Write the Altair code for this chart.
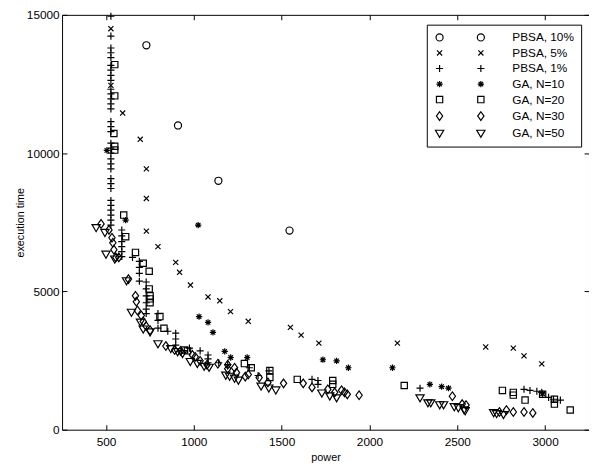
import altair as alt
import pandas as pd

FONT = "Liberation Sans"

series_names = ["PBSA, 10%", "PBSA, 5%", "PBSA, 1%", "GA, N=10", "GA, N=20", "GA, N=30", "GA, N=50"]

pbsa10_x = [730, 910, 1140, 1545]
pbsa10_y = [13900, 11000, 9000, 7200]

pbsa5_x = [528, 528, 595, 695, 730, 730, 730, 796, 897, 919, 981, 1081, 1148, 1209, 1310,
           1550, 1611, 1712, 2159, 2662, 2819, 2880, 2981]
pbsa5_y = [14500, 12450, 11450, 10500, 9430, 8360, 7180, 6620, 6050, 5690, 5230, 4800, 4660, 4270, 3920,
           3700, 3420, 3130, 3130, 2990, 2950, 2670, 2380]

pbsa1_x = [528] * 32 + [590] * 6 + [651] + [690] * 4 + [729] * 6 + [796] * 3 + [852] + [897] * 3 + \
          [975, 1036] + [1081] * 3 + [1142, 1193, 1316, 1366, 1428, 1673, 1707, 1707, 2288,
                                      2880, 2914, 2953, 2981, 3020, 3048, 3087]
pbsa1_y = [14950, 14230, 13800, 13630, 13450, 13170, 13000, 12810, 12630, 12310, 12140, 11960, 11780,
           11600, 11140, 10960, 10780, 10360, 10180, 10000, 9790, 9610, 9430, 9080, 8900, 8720, 8290,
           8110, 7940, 7760, 7580, 7400,
           7220, 7010, 6800, 6620, 6440, 6260,
           6230,
           6085, 5870, 5655, 5370,
           5340, 5090, 4840, 4590, 4360, 4200,
           4200, 3950, 3670,
           3560,
           3490, 3280, 3060,
           2950, 2850,
           2700, 2560, 2420,
           2420, 2350, 2240, 1960, 2130, 1820, 1780, 1640, 1500,
           1460, 1420, 1390, 1350, 1170, 1100, 1070]

ga10_x = [505, 612, 1025, 1030, 1081, 1109, 1176, 1210, 1304, 1735, 1813, 1880, 2131, 2344, 2411, 2450, 2986]
ga10_y = [10100, 7580, 7400, 4090, 3880, 3520, 2830, 2610, 2610, 2530, 2490, 2240, 2240, 1640, 1560, 1500, 1300]

ga20_x = [550, 550, 545, 550, 550, 601, 612, 668, 712, 746, 746, 751, 751, 751, 807, 830, 947, 964,
          1288, 1327, 1433, 1433, 1589, 1791, 1791, 2198, 2757, 2819, 2819, 2886, 2986, 3053, 3053, 3143]
ga20_y = [13200, 12070, 10710, 10250, 10110, 7760, 6980, 6410, 6020, 5730, 5090, 4840, 4730, 4590, 4090,
          3670, 2880, 2850, 2390, 2240, 2140, 1890, 1820, 1780, 1640, 1600, 1420, 1350, 1250, 1070,
          1280, 1100, 925, 710]

ga30_x = [472, 517, 534, 539, 545, 556, 573, 628, 668, 673, 679, 701, 712, 729, 751, 841, 891, 925, 992,
          1008, 1036, 1075, 1137, 1193, 1193, 1232, 1243, 1293, 1310, 1372, 1422, 1511, 1623, 1673, 1763,
          1802, 1841, 1858, 1874, 1941, 2472, 2528, 2550, 2740, 2780, 2819, 2880, 2930]
ga30_y = [7440, 7225, 6940, 6760, 6510, 6230, 6230, 5445, 4840, 4630, 4310, 4130, 3915, 3740, 3595, 3025,
          2885, 2850, 2705, 2635, 2490, 2350, 2385, 2350, 2205, 2240, 2065, 1920, 1995, 1885, 1710, 1675,
          1675, 1530, 1460, 1350, 1425, 1350, 1280, 1245, 1210, 925, 890, 640, 710, 640, 640, 605]

ga50_x = [444, 494, 500, 550, 617, 645, 696, 712, 751, 796, 869, 908, 936, 980, 1020, 1059, 1087, 1182,
          1204, 1232, 1254, 1383, 1427, 1467, 1729, 1774, 1813, 2288, 2333, 2349, 2400, 2422, 2483, 2506,
          2539, 2545, 2707, 2724, 2763]
ga50_y = [7330, 7155, 6370, 6195, 5410, 4270, 3915, 3665, 3560, 3130, 2955, 2845, 2775, 2490, 2420, 2315,
          2280, 1995, 1955, 1885, 1815, 1600, 1530, 1460, 1350, 1245, 1175, 1175, 995, 995, 925, 925, 855,
          820, 745, 710, 640, 605, 570]

x_ticks = [500, 1000, 1500, 2000, 2500, 3000]
y_ticks = [0, 5000, 10000, 15000]

all_x = [pbsa10_x, pbsa5_x, pbsa1_x, ga10_x, ga20_x, ga30_x, ga50_x]
all_y = [pbsa10_y, pbsa5_y, pbsa1_y, ga10_y, ga20_y, ga30_y, ga50_y]

rows = []
for name, xs, ys in zip(series_names, all_x, all_y):
    for xv, yv in zip(xs, ys):
        rows.append({"series": name, "series2": name, "power": xv, "time": yv})
df = pd.DataFrame(rows)
first = df.groupby("series", sort=False).head(1)

shape_paths = [
    "M0.9,0A0.9,0.9,0,1,1,-0.9,0A0.9,0.9,0,1,1,0.9,0Z",
    "M-0.65,-0.65L0.65,0.65M-0.65,0.65L0.65,-0.65",
    "M-0.9,0L0.9,0M0,-0.9L0,0.9",
    "M-0.8,0L0.8,0M0,-0.8L0,0.8M-0.57,-0.57L0.57,0.57M-0.57,0.57L0.57,-0.57",
    "M-0.8,-0.8L0.8,-0.8L0.8,0.8L-0.8,0.8Z",
    "M0,-1.1L0.8,0L0,1.1L-0.8,0Z",
    "M-1.05,-0.6L1.05,-0.6L0,1.2Z",
]

x_scale = alt.Scale(domain=[250, 3250], nice=False, zero=False)
y_scale = alt.Scale(domain=[0, 15000], nice=False, zero=False)

ax_common = dict(grid=False, domain=False, ticks=True, tickSize=5, tickColor="black", tickWidth=1,
                 offset=-5, format="d", labelFont=FONT, labelFontSize=12, labelColor="black",
                 titleFont=FONT, titleFontSize=11, titleFontWeight="normal", titleColor="black")

leg_common = dict(title=None, orient="none", legendX=371, legendY=10, padding=7,
                  labelFont=FONT, labelFontSize=12, labelColor="black", labelLimit=300,
                  symbolSize=64, symbolStrokeWidth=1.2, symbolStrokeColor="black", symbolOpacity=1)

SW = 1.2

pts = alt.Chart(df).mark_point(filled=False, color="black", strokeWidth=SW, size=64, opacity=1).encode(
    x=alt.X("power:Q", scale=x_scale,
            axis=alt.Axis(values=x_ticks, title="power", labelPadding=7, titlePadding=4, **ax_common)),
    y=alt.Y("time:Q", scale=y_scale,
            axis=alt.Axis(values=y_ticks, title="execution time", labelPadding=3, titlePadding=1, **ax_common)),
    shape=alt.Shape("series:N", sort=series_names,
                    scale=alt.Scale(domain=series_names, range=shape_paths),
                    legend=alt.Legend(strokeColor="black", rowPadding=3.8, labelOffset=68, **leg_common)),
)

# second (hidden) layer: supplies the top/right tick axes and the second symbol column of the legend
dup = alt.Chart(first).mark_point(filled=False, color="black", strokeWidth=SW, size=64, opacity=0).encode(
    x=alt.X("power:Q", scale=x_scale,
            axis=alt.Axis(orient="top", values=x_ticks, labels=False, title=None, **ax_common)),
    y=alt.Y("time:Q", scale=y_scale,
            axis=alt.Axis(orient="right", values=y_ticks, labels=False, title=None, **ax_common)),
    shape=alt.Shape("series2:N", sort=series_names,
                    scale=alt.Scale(domain=series_names, range=shape_paths),
                    legend=alt.Legend(symbolOffset=42, labelExpr="''", rowPadding=3.8, labelOffset=0,
                                      **leg_common)),
)

chart = alt.layer(pts, dup).resolve_scale(shape="independent").resolve_axis(
    x="independent", y="independent"
).resolve_legend(shape="independent").properties(
    width=536, height=422,
    autosize=alt.AutoSizeParams(type="none"),
    padding={"left": 55, "top": 3, "right": 0, "bottom": 35},
    background="white",
).configure_view(stroke="black", strokeWidth=1)

chart.save("out.html", embed_options={"renderer": "svg", "actions": False})
